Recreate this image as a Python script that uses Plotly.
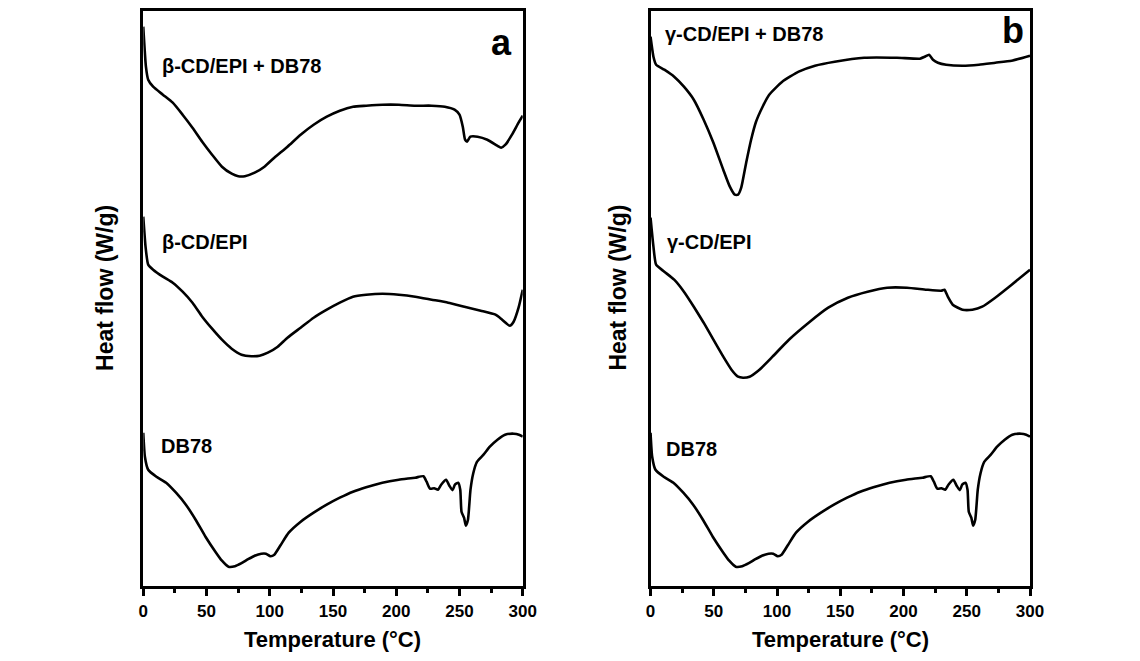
import plotly.graph_objects as go
from plotly.subplots import make_subplots

# ---- data (heat flow, arbitrary stacked units) ----
t_bcd_db = [0, 2.1, 3.9, 7.8, 15.5, 23.3, 31.1, 38.9, 46.6, 54.4, 62.2, 69.9, 75.1, 80.3, 88.1, 95.8, 103.6,
            114, 124.4, 134.7, 145.1, 155.4, 165.8, 176.2, 189.1, 202.1, 215, 228, 238.4, 246.1, 250,
            252.6, 254.4, 256, 258.6, 264.3, 272, 279.8, 282.9, 286.3, 291.5, 296.7, 300]
hf_bcd_db = [559, 519, 506, 499, 491, 483, 471, 458, 444, 431, 419, 412, 409.5, 409.5, 413, 419, 428,
             439, 451, 461, 469, 475, 479, 480, 481, 481, 480, 480, 479, 476, 471,
             459, 446, 444, 449, 449, 446, 440, 438, 441, 451, 463, 470]

t_bcd = [0, 1.8, 3.9, 7.8, 15.5, 23.3, 31.1, 38.9, 46.6, 54.4, 62.2, 69.9, 77.7, 85.5, 92, 98.5, 106.3,
         114, 124.4, 134.7, 145.1, 155.4, 165.8, 176.2, 189.1, 202.1, 215, 228, 241, 253.9, 266.8,
         278.5, 283.7, 289.7, 292.8, 296.7, 300]
hf_bcd = [369, 339, 321, 316, 309, 303, 294, 283, 269, 257, 246, 237, 231, 229.5, 230, 233, 239,
          248, 258, 268, 276, 283, 289, 291, 292, 291, 289, 286, 283, 279, 275,
          271, 266, 260, 264, 278, 296]

t_db78 = [0, 1.3, 3.9, 10.4, 18.1, 25.9, 33.7, 41.4, 49.2, 57, 62.2, 67.4, 72.5, 77.7, 82.9, 88.1, 93.3,
          97, 100.5, 103.6, 108.8, 115, 124, 134.7, 145, 155.4, 165.8, 176.2, 189, 202, 215, 221.5,
          224, 226.7, 230, 233, 235.5, 239.4, 242, 244.5, 246.4, 249, 250.6, 251.6, 253.6, 255,
          256.7, 258.7, 260.8, 263.9, 269, 274, 280, 286, 293, 297, 300]
hf_db78 = [153, 129, 116, 109, 103, 93, 81, 66, 49, 34, 25, 19, 19.5, 22.5, 26.5, 30, 32,
           32, 29.5, 31, 41, 53, 63.5, 73, 81, 88, 94, 98.5, 103, 106, 108, 109.5,
           104, 97, 97.5, 96, 101, 106, 100, 95.5, 101, 103, 96, 74, 68, 60,
           66, 96, 112, 124, 131, 139, 146, 151, 152, 151, 149]

t_gcd_db = [0, 2.3, 4.4, 10.9, 18.7, 26.4, 34.2, 42, 49.7, 57.5, 62.7, 66.6, 69.2, 71.7, 75.6, 79.5, 83.4,
            88.6, 93.8, 104.1, 117.1, 130, 145.6, 168.9, 194.8, 213, 216.8, 220.2, 223.3, 227.2, 233.7,
            246.6, 259.6, 272.6, 285.5, 300]
hf_gcd_db = [549, 529, 521, 516, 509, 499, 486, 466, 443, 416, 399, 391, 391, 398, 423, 446, 464,
             479, 491, 504, 514, 520, 524, 528, 528, 527, 529, 531, 526, 523, 521,
             520, 521, 523, 525, 530]

t_gcd = [0, 2.3, 4.4, 10.9, 18.7, 26.4, 34.2, 42, 49.7, 57.5, 64, 69.2, 73.1, 78.3, 86.1, 96.4, 109.4,
         125, 140.5, 156, 171.6, 187.1, 202.7, 218.2, 229.8, 232.4, 235, 238.9, 246.6, 254.4, 262.2,
         272.5, 285.5, 300]
hf_gcd = [368, 339, 321, 314, 306, 294, 279, 263, 246, 229, 216, 209, 208, 209, 216, 229, 246,
          263, 278, 288, 294, 298, 298, 296, 295, 296, 289, 281, 276, 276, 279,
          288, 301, 316]

x_ticks = [0, 50, 100, 150, 200, 250, 300]
x_minor = [25, 75, 125, 175, 225, 275]

FONT = "Liberation Sans, Arial, sans-serif"
OFF = 8                      # default 8px body margin of the page
W, H = 1140 - 2 * OFF, 661 - 2 * OFF


def X(px):
    return (px - OFF) / W


def Y(py):
    return 1 - (py - OFF) / H


fig = make_subplots(rows=1, cols=2)
panels = [
    (1, [(t_bcd_db, hf_bcd_db), (t_bcd, hf_bcd), (t_db78, hf_db78)]),
    (2, [(t_gcd_db, hf_gcd_db), (t_gcd, hf_gcd), (t_db78, hf_db78)]),
]
for col, curves in panels:
    for t, hf in curves:
        fig.add_trace(go.Scatter(x=t, y=hf, mode="lines",
                                 line=dict(color="black", width=2.6, shape="spline", smoothing=0.5),
                                 showlegend=False, hoverinfo="skip"), row=1, col=col)

xdoms = [[X(140.5), X(526.5)], [X(656.5), X(1042.5)]]
ydom = [Y(585.7), Y(10.7)]
for i, xd in enumerate(xdoms):
    sfx = "" if i == 0 else str(i + 1)
    fig.layout["xaxis" + sfx].update(
        domain=xd, range=[0, 300], tickvals=x_ticks, ticks="outside", ticklen=8, tickwidth=2.5,
        tickcolor="black", showline=True, linecolor="black", linewidth=2.5, mirror=True,
        showgrid=False, zeroline=False,
        tickfont=dict(family=FONT, size=17, color="black", weight="bold"),
        minor=dict(tickvals=x_minor, ticks="outside", ticklen=5, tickwidth=2.5, tickcolor="black"),
    )
    fig.layout["yaxis" + sfx].update(
        domain=ydom, range=[0, 575], showticklabels=False, ticks="", showline=True,
        linecolor="black", linewidth=2.5, mirror=True, showgrid=False, zeroline=False,
    )


def ann(text, x, y, xref, yref, size, xanchor="left", yanchor="middle", angle=0, pad=1):
    fig.add_annotation(text=text, x=x, y=y, xref=xref, yref=yref, showarrow=False,
                       xanchor=xanchor, yanchor=yanchor, textangle=angle, borderpad=pad,
                       font=dict(family=FONT, size=size, color="black", weight="bold"))


# curve labels
ann("β-CD/EPI + DB78", 13, 520, "x", "y", 20)
ann("β-CD/EPI", 13, 344, "x", "y", 20)
ann("DB78", 12.5, 140, "x", "y", 20)
ann("γ-CD/EPI + DB78", 9.5, 552, "x2", "y2", 20)
ann("γ-CD/EPI", 11.5, 344, "x2", "y2", 20)
ann("DB78", 10.5, 137, "x2", "y2", 20)
# panel letters
ann("a", X(518), Y(43), "paper", "paper", 36, xanchor="right")
ann("b", X(1038), Y(30.5), "paper", "paper", 36, xanchor="right")
# axis titles
ann("Temperature (°C)", X(333.5), 0, "paper", "paper", 22, xanchor="center", yanchor="bottom", pad=0)
ann("Temperature (°C)", X(849.5), 0, "paper", "paper", 22, xanchor="center", yanchor="bottom", pad=0)
ann("Heat flow (W/g)", X(101.5), Y(288), "paper", "paper", 23, xanchor="center", angle=-90)
ann("Heat flow (W/g)", X(623), Y(288), "paper", "paper", 23, xanchor="center", angle=-90)

fig.update_layout(width=W, height=H, margin=dict(l=0, r=0, t=0, b=0),
                  plot_bgcolor="white", paper_bgcolor="white")
fig.write_html("out.html")
